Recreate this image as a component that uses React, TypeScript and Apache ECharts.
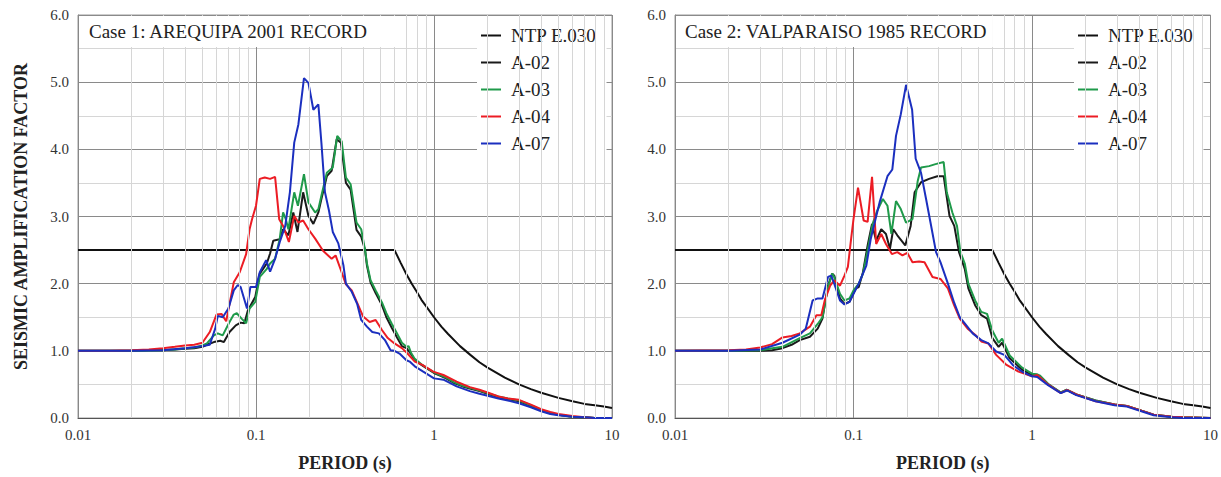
import React, { useEffect, useRef } from "react";
import * as echarts from "echarts";

const FONT = '"Liberation Serif", "Times New Roman", serif';

const X_TICK_LABELS = ["0.01", "0.1", "1", "10"];
const MINOR_PERIODS = [
  0.02, 0.03, 0.04, 0.05, 0.06, 0.07, 0.08, 0.09,
  0.2, 0.3, 0.4, 0.5, 0.6, 0.7, 0.8, 0.9,
  2, 3, 4, 5, 6, 7, 8, 9,
];
const SERIES_NAMES = ["NTP E.030", "A-02", "A-03", "A-04", "A-07"];
const SERIES_COLORS = ["#111111", "#1a1a1a", "#1f9a4a", "#ec1c24", "#1b2fbf"];
const CASE_TITLES = ["Case 1: AREQUIPA 2001 RECORD", "Case 2: VALPARAISO 1985 RECORD"];

const NTP_E030 = [
  [0.01, 2.5], [0.6, 2.5], [0.65, 2.31], [0.7, 2.14], [0.75, 2.0], [0.8, 1.88], [0.85, 1.76],
  [0.9, 1.67], [1.0, 1.5], [1.1, 1.36], [1.2, 1.25], [1.4, 1.07], [1.6, 0.94], [1.8, 0.83],
  [2.0, 0.75], [2.5, 0.6], [3.0, 0.5], [3.5, 0.43], [4.0, 0.375], [5.0, 0.3], [6.0, 0.25],
  [7.0, 0.21], [8.0, 0.19], [9.0, 0.17], [10.0, 0.15],
];

const CASE1_A02 = [
  [0.01, 1.0], [0.02, 1.0], [0.025, 1.01], [0.03, 1.01], [0.035, 1.02], [0.04, 1.03], [0.045, 1.04],
  [0.05, 1.06], [0.053, 1.09], [0.058, 1.13], [0.063, 1.15], [0.066, 1.13], [0.071, 1.28],
  [0.077, 1.38], [0.082, 1.42], [0.086, 1.41], [0.09, 1.6], [0.099, 1.8], [0.105, 2.15],
  [0.115, 2.3], [0.12, 2.45], [0.125, 2.64], [0.13, 2.65], [0.136, 2.66], [0.142, 2.81],
  [0.152, 2.72], [0.162, 3.06], [0.171, 2.77], [0.184, 3.36], [0.197, 3.01], [0.21, 2.89],
  [0.224, 3.06], [0.233, 3.26], [0.25, 3.6], [0.266, 3.68], [0.284, 4.15], [0.3, 4.1],
  [0.32, 3.5], [0.34, 3.4], [0.367, 2.8], [0.39, 2.7], [0.41, 2.5], [0.42, 2.27], [0.44, 2.02],
  [0.47, 1.86], [0.51, 1.68], [0.54, 1.5], [0.58, 1.34], [0.62, 1.2], [0.66, 1.07], [0.7, 1.04],
  [0.74, 0.96], [0.78, 0.86], [0.85, 0.79], [0.92, 0.73], [1.0, 0.67], [1.08, 0.63], [1.17, 0.59],
  [1.3, 0.52], [1.45, 0.47], [1.59, 0.44], [1.8, 0.4], [2.0, 0.36], [2.3, 0.31], [2.6, 0.28],
  [3.0, 0.25], [3.5, 0.18], [4.0, 0.11], [4.5, 0.07], [5.0, 0.05], [6.0, 0.02], [7.0, 0.01],
  [8.0, 0.0], [10.0, 0.0],
];
const CASE1_A03 = [
  [0.01, 1.0], [0.02, 1.0], [0.03, 1.01], [0.035, 1.02], [0.04, 1.04], [0.045, 1.05], [0.05, 1.08],
  [0.053, 1.11], [0.058, 1.23], [0.061, 1.26], [0.065, 1.23], [0.071, 1.43], [0.075, 1.54],
  [0.078, 1.56], [0.083, 1.48], [0.088, 1.41], [0.092, 1.63], [0.099, 1.73], [0.105, 2.1],
  [0.115, 2.22], [0.12, 2.3], [0.128, 2.37], [0.136, 2.67], [0.142, 3.06], [0.147, 2.96],
  [0.152, 2.81], [0.164, 3.36], [0.172, 3.16], [0.186, 3.63], [0.197, 3.21], [0.215, 3.06],
  [0.224, 3.11], [0.233, 3.31], [0.25, 3.65], [0.27, 3.73], [0.286, 4.2], [0.303, 4.12],
  [0.32, 3.58], [0.34, 3.48], [0.367, 2.91], [0.39, 2.81], [0.41, 2.5], [0.42, 2.3], [0.44, 2.05],
  [0.47, 1.9], [0.51, 1.72], [0.54, 1.56], [0.58, 1.4], [0.62, 1.26], [0.66, 1.12], [0.7, 1.06],
  [0.72, 1.07], [0.74, 0.98], [0.78, 0.88], [0.85, 0.8], [0.92, 0.74], [1.0, 0.68], [1.08, 0.64],
  [1.17, 0.6], [1.3, 0.53], [1.45, 0.48], [1.59, 0.45], [1.8, 0.41], [2.0, 0.37], [2.3, 0.32],
  [2.6, 0.29], [3.0, 0.26], [3.5, 0.19], [4.0, 0.12], [4.5, 0.08], [5.0, 0.05], [6.0, 0.02],
  [7.0, 0.01], [8.0, 0.0], [10.0, 0.0],
];
const CASE1_A04 = [
  [0.01, 1.0], [0.015, 1.0], [0.02, 1.01], [0.025, 1.02], [0.03, 1.04], [0.035, 1.06], [0.04, 1.08],
  [0.045, 1.09], [0.05, 1.12], [0.055, 1.28], [0.06, 1.54], [0.064, 1.55], [0.068, 1.44],
  [0.075, 2.02], [0.081, 2.17], [0.088, 2.44], [0.092, 2.81], [0.095, 2.96], [0.1, 3.16],
  [0.105, 3.56], [0.112, 3.58], [0.12, 3.56], [0.128, 3.59], [0.135, 2.96], [0.142, 2.86],
  [0.153, 2.62], [0.164, 3.01], [0.173, 2.91], [0.184, 2.94], [0.197, 2.81], [0.215, 2.67],
  [0.238, 2.49], [0.266, 2.37], [0.28, 2.42], [0.3, 2.2], [0.32, 1.99], [0.345, 1.9],
  [0.375, 1.68], [0.4, 1.51], [0.435, 1.43], [0.47, 1.46], [0.51, 1.31], [0.55, 1.19],
  [0.6, 1.11], [0.66, 1.04], [0.71, 0.96], [0.78, 0.84], [0.86, 0.79], [0.99, 0.69], [1.13, 0.64],
  [1.34, 0.54], [1.59, 0.46], [1.8, 0.42], [2.0, 0.38], [2.3, 0.32], [2.6, 0.29], [3.0, 0.27],
  [3.5, 0.2], [4.0, 0.13], [4.5, 0.09], [5.0, 0.06], [6.0, 0.03], [7.0, 0.01], [8.0, 0.0],
  [10.0, 0.0],
];
const CASE1_A07 = [
  [0.01, 1.0], [0.02, 1.0], [0.03, 1.01], [0.04, 1.04], [0.05, 1.07], [0.055, 1.09], [0.059, 1.33],
  [0.061, 1.52], [0.065, 1.5], [0.07, 1.63], [0.075, 1.9], [0.079, 1.98], [0.082, 1.95],
  [0.089, 1.63], [0.093, 1.95], [0.1, 1.95], [0.105, 2.17], [0.114, 2.35], [0.12, 2.18],
  [0.128, 2.37], [0.136, 2.62], [0.146, 2.86], [0.155, 3.36], [0.164, 4.1], [0.173, 4.37],
  [0.186, 5.06], [0.197, 4.99], [0.21, 4.59], [0.224, 4.67], [0.233, 4.1], [0.244, 3.36],
  [0.257, 3.09], [0.27, 2.77], [0.29, 2.6], [0.31, 2.27], [0.32, 2.0], [0.345, 1.88], [0.37, 1.7],
  [0.39, 1.46], [0.42, 1.36], [0.45, 1.28], [0.49, 1.26], [0.53, 1.16], [0.57, 1.01], [0.6, 1.0],
  [0.64, 0.96], [0.7, 0.86], [0.73, 0.84], [0.78, 0.77], [0.87, 0.69], [1.0, 0.59], [1.13, 0.57],
  [1.34, 0.47], [1.59, 0.4], [1.8, 0.36], [2.0, 0.33], [2.3, 0.29], [2.6, 0.26], [3.0, 0.22],
  [3.5, 0.16], [4.0, 0.1], [4.5, 0.06], [5.0, 0.04], [6.0, 0.02], [7.0, 0.01], [8.0, 0.0],
  [10.0, 0.0],
];

const CASE2_A02 = [
  [0.01, 1.0], [0.02, 1.0], [0.03, 1.0], [0.035, 1.01], [0.04, 1.04], [0.045, 1.09], [0.05, 1.16],
  [0.057, 1.21], [0.063, 1.33], [0.067, 1.48], [0.072, 1.97], [0.076, 2.15], [0.078, 2.12],
  [0.084, 1.78], [0.089, 1.7], [0.095, 1.73], [0.103, 1.93], [0.107, 1.95], [0.113, 2.17],
  [0.12, 2.57], [0.127, 2.89], [0.134, 2.64], [0.143, 2.81], [0.152, 2.74], [0.16, 2.52],
  [0.167, 2.81], [0.176, 2.72], [0.195, 2.57], [0.209, 2.86], [0.22, 3.36], [0.239, 3.51],
  [0.265, 3.56], [0.295, 3.6], [0.32, 3.6], [0.345, 3.01], [0.367, 2.86], [0.39, 2.47],
  [0.42, 2.22], [0.44, 1.93], [0.48, 1.68], [0.52, 1.53], [0.56, 1.48], [0.6, 1.19], [0.65, 1.06],
  [0.68, 1.12], [0.75, 0.89], [0.88, 0.72], [1.0, 0.64], [1.07, 0.63], [1.11, 0.62], [1.23, 0.5],
  [1.45, 0.38], [1.57, 0.42], [1.77, 0.35], [2.27, 0.26], [2.9, 0.2], [3.4, 0.18], [4.1, 0.11],
  [4.8, 0.05], [6.1, 0.02], [7.0, 0.01], [10.0, 0.0],
];
const CASE2_A03 = [
  [0.01, 1.0], [0.02, 1.0], [0.03, 1.01], [0.04, 1.06], [0.05, 1.19], [0.057, 1.26], [0.063, 1.4],
  [0.067, 1.5], [0.072, 1.95], [0.076, 2.15], [0.078, 2.1], [0.084, 1.85], [0.089, 1.75],
  [0.095, 1.78], [0.1, 1.9], [0.107, 2.0], [0.113, 2.15], [0.12, 2.5], [0.128, 2.89],
  [0.136, 3.09], [0.146, 3.26], [0.155, 3.16], [0.163, 2.74], [0.173, 3.23], [0.184, 3.11],
  [0.197, 2.91], [0.214, 2.96], [0.229, 3.53], [0.239, 3.73], [0.265, 3.75], [0.288, 3.78],
  [0.32, 3.81], [0.333, 3.36], [0.358, 3.06], [0.38, 2.86], [0.397, 2.47], [0.42, 2.3],
  [0.44, 2.0], [0.48, 1.75], [0.52, 1.58], [0.56, 1.55], [0.6, 1.3], [0.65, 1.12], [0.68, 1.18],
  [0.75, 0.93], [0.88, 0.75], [1.0, 0.66], [1.07, 0.65], [1.11, 0.63], [1.23, 0.51], [1.45, 0.38],
  [1.57, 0.42], [1.77, 0.35], [2.27, 0.26], [2.9, 0.2], [3.4, 0.18], [4.1, 0.11], [4.8, 0.05],
  [6.1, 0.02], [7.0, 0.01], [10.0, 0.0],
];
const CASE2_A04 = [
  [0.01, 1.0], [0.02, 1.01], [0.025, 1.02], [0.03, 1.05], [0.035, 1.1], [0.04, 1.2], [0.045, 1.22],
  [0.05, 1.26], [0.057, 1.36], [0.062, 1.53], [0.066, 1.53], [0.069, 1.75], [0.074, 1.97],
  [0.078, 2.05], [0.084, 1.97], [0.089, 2.12], [0.093, 2.25], [0.097, 2.67], [0.1, 2.96],
  [0.106, 3.43], [0.114, 2.94], [0.12, 2.92], [0.127, 3.59], [0.134, 2.59], [0.143, 2.74],
  [0.152, 2.59], [0.164, 2.44], [0.176, 2.47], [0.188, 2.42], [0.2, 2.46], [0.214, 2.32],
  [0.233, 2.33], [0.25, 2.32], [0.277, 2.1], [0.307, 2.07], [0.338, 1.93], [0.366, 1.68],
  [0.394, 1.48], [0.436, 1.33], [0.48, 1.24], [0.52, 1.14], [0.57, 1.11], [0.63, 0.94],
  [0.72, 0.79], [0.84, 0.69], [1.0, 0.62], [1.07, 0.64], [1.23, 0.5], [1.45, 0.37], [1.57, 0.42],
  [1.77, 0.35], [2.27, 0.25], [2.9, 0.2], [3.4, 0.18], [4.1, 0.11], [4.8, 0.05], [6.1, 0.02],
  [7.0, 0.01], [10.0, 0.0],
];
const CASE2_A07 = [
  [0.01, 1.0], [0.02, 1.0], [0.03, 1.02], [0.04, 1.12], [0.05, 1.24], [0.054, 1.33], [0.059, 1.75],
  [0.063, 1.78], [0.067, 1.78], [0.072, 2.1], [0.075, 2.12], [0.078, 2.0], [0.084, 1.75],
  [0.089, 1.69], [0.095, 1.73], [0.1, 1.85], [0.107, 2.0], [0.118, 2.27], [0.125, 2.67],
  [0.13, 2.86], [0.14, 3.21], [0.155, 3.6], [0.165, 3.7], [0.173, 4.2], [0.184, 4.52],
  [0.197, 4.96], [0.213, 4.59], [0.223, 3.86], [0.239, 3.65], [0.255, 3.26], [0.27, 2.91],
  [0.29, 2.47], [0.307, 2.32], [0.338, 2.0], [0.366, 1.72], [0.394, 1.5], [0.42, 1.41],
  [0.465, 1.26], [0.52, 1.16], [0.57, 1.11], [0.63, 0.99], [0.7, 0.94], [0.78, 0.79], [0.88, 0.69],
  [1.0, 0.62], [1.07, 0.61], [1.23, 0.49], [1.45, 0.37], [1.57, 0.41], [1.77, 0.34], [2.27, 0.25],
  [2.9, 0.19], [3.4, 0.17], [4.1, 0.1], [4.8, 0.04], [6.1, 0.01], [7.0, 0.0], [10.0, 0.0],
];

const CASE_SERIES = [
  [NTP_E030, CASE1_A02, CASE1_A03, CASE1_A04, CASE1_A07],
  [NTP_E030, CASE2_A02, CASE2_A03, CASE2_A04, CASE2_A07],
];

const GRIDS = [
  { left: 78, top: 15, width: 534, height: 405 },
  { left: 675, top: 15, width: 537, height: 405 },
];
const TITLE_PADDING = [
  [6, 26, 6, 10],
  [6, 6, 6, 9],
];
const LEGEND_LEFT = [477, 1074];

export default function App() {
  const ref = useRef<HTMLDivElement>(null);

  useEffect(() => {
    document.body.style.margin = "0";
    const chart = echarts.init(ref.current as HTMLDivElement, null, { renderer: "svg" });

    const grid = GRIDS.map((g) => ({
      ...g,
      show: true,
      borderColor: "#9a9a9a",
      borderWidth: 1,
      backgroundColor: "transparent",
    }));

    const xAxis = GRIDS.map((_, i) => ({
      gridIndex: i,
      type: "log",
      logBase: 10,
      min: 0.01,
      max: 10,
      axisLine: { show: true, onZero: false, lineStyle: { color: "#555", width: 1 } },
      axisTick: { show: false },
      axisLabel: {
        fontFamily: FONT,
        fontSize: 15,
        color: "#333",
        margin: 9,
        formatter: (v: number) => X_TICK_LABELS[Math.round(Math.log10(v)) + 2] ?? "",
      },
      splitLine: { show: true, lineStyle: { color: "#8a8a8a", width: 1 } },
      name: "PERIOD (s)",
      nameLocation: "middle",
      nameGap: 36,
      nameTextStyle: { fontFamily: FONT, fontSize: 18, fontWeight: "bold", color: "#222" },
    }));

    const yAxis = GRIDS.map((_, i) => ({
      gridIndex: i,
      type: "value",
      min: 0,
      max: 6,
      interval: 1,
      axisLine: { show: true, lineStyle: { color: "#888", width: 1 } },
      axisTick: { show: false },
      axisLabel: {
        fontFamily: FONT,
        fontSize: 15,
        color: "#333",
        margin: 9,
        formatter: (v: number) => v.toFixed(1),
      },
      splitLine: { show: true, lineStyle: { color: "#8a8a8a", width: 1 } },
      minorTick: { show: false, splitNumber: 2 },
      minorSplitLine: { show: true, lineStyle: { color: "#d6d6d6", width: 1 } },
      name: i === 0 ? "SEISMIC AMPLIFICATION FACTOR" : "",
      nameLocation: "middle",
      nameGap: 48,
      nameRotate: 90,
      nameTextStyle: { fontFamily: FONT, fontSize: 18, fontWeight: "bold", color: "#222" },
    }));

    const series: any[] = [];
    GRIDS.forEach((_, i) => {
      series.push({
        type: "line",
        xAxisIndex: i,
        yAxisIndex: i,
        data: [],
        silent: true,
        z: 1,
        markLine: {
          silent: true,
          symbol: ["none", "none"],
          label: { show: false },
          lineStyle: { color: "#d6d6d6", width: 1, type: "solid" },
          emphasis: { disabled: true },
          data: MINOR_PERIODS.map((t) => ({ xAxis: t })),
        },
      });
      CASE_SERIES[i].forEach((data, k) => {
        series.push({
          type: "line",
          name: SERIES_NAMES[k],
          xAxisIndex: i,
          yAxisIndex: i,
          data,
          symbol: "none",
          silent: true,
          z: 3,
          lineStyle: { width: 2, color: SERIES_COLORS[k] },
          itemStyle: { color: SERIES_COLORS[k] },
          emphasis: { disabled: true },
        });
      });
    });

    const title = GRIDS.map((g, i) => ({
      text: CASE_TITLES[i],
      left: g.left + 1,
      top: 16,
      padding: TITLE_PADDING[i],
      backgroundColor: "#fff",
      textStyle: { fontFamily: FONT, fontSize: 19, fontWeight: "normal", color: "#222" },
    }));

    const legend = GRIDS.map((_, i) => ({
      left: LEGEND_LEFT[i],
      top: 16,
      orient: "vertical",
      data: SERIES_NAMES.map((name) => ({ name, icon: "rect" })),
      selectedMode: false,
      backgroundColor: "#fff",
      padding: [10, 10, 4, 4],
      itemWidth: 20,
      itemHeight: 2,
      itemGap: 8,
      textStyle: { fontFamily: FONT, fontSize: 19, color: "#222", padding: [0, 0, 0, 5] },
    }));

    chart.setOption({
      animation: false,
      backgroundColor: "#fff",
      title,
      legend,
      grid,
      xAxis,
      yAxis,
      series,
    });

    return () => chart.dispose();
  }, []);

  return <div ref={ref} style={{ width: 1221, height: 477 }} />;
}
